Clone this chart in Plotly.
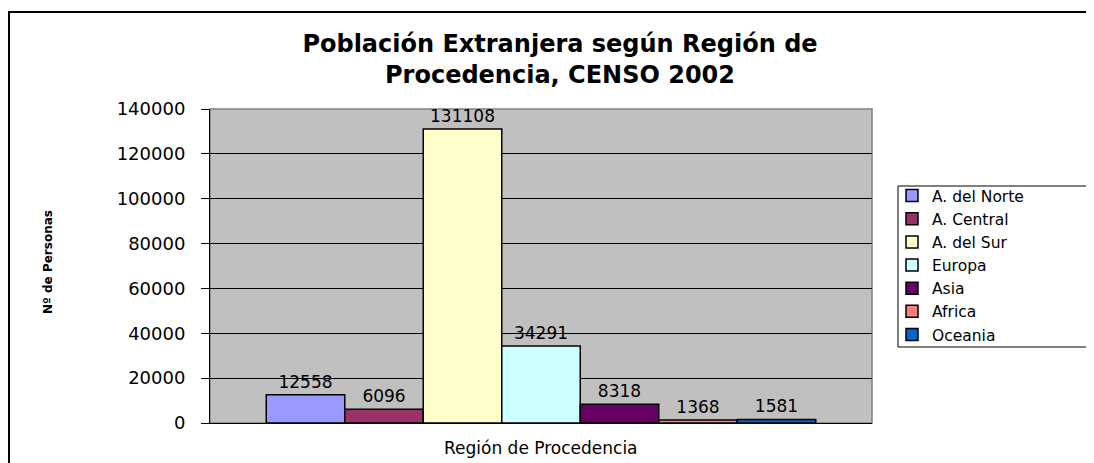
import plotly.graph_objects as go

# ---- data ----
category = ["Región de Procedencia"]
regions = ["A. del Norte", "A. Central", "A. del Sur", "Europa", "Asia", "Africa", "Oceania"]
values = [12558, 6096, 131108, 34291, 8318, 1368, 1581]
colors = ["#9999FF", "#993366", "#FFFFCC", "#CCFFFF", "#660066", "#FF8080", "#0066CC"]
y_ticks = [0, 20000, 40000, 60000, 80000, 100000, 120000, 140000]
title_lines = ["Población Extranjera según Región de", "Procedencia, CENSO 2002"]
y_title = "Nº de Personas"

# page body has an 8px margin; figure coordinates = reference px - OFF
OFF = 8
W, H = 1094 - OFF, 463 - OFF
L, R, T, B = 210 - OFF, 872 - OFF, 109 - OFF, 423 - OFF  # plot area in figure px


def px_x(px):  # reference-page px -> paper
    return (px - OFF - L) / (R - L)


def px_y(py):
    return (B - (py - OFF)) / (B - T)


FONT = "DejaVu Sans, Liberation Sans, Arial"

fig = go.Figure()
for name, v, c in zip(regions, values, colors):
    fig.add_trace(go.Bar(
        x=category, y=[v], name=name,
        marker=dict(color=c, line=dict(color="black", width=1.5)),
        text=[str(v)], textposition="outside", constraintext="none",
        textfont=dict(size=17, color="black", family=FONT),
        cliponaxis=False,
    ))

fig.update_layout(
    width=W, height=H,
    margin=dict(l=L, r=W - R, t=T, b=H - B, pad=0),
    paper_bgcolor="white",
    plot_bgcolor="#C0C0C0",
    barmode="group", bargap=0.17, bargroupgap=0,
    font=dict(family=FONT, color="black"),
    title=dict(text="<br>".join(title_lines), x=px_x(560), xref="paper", xanchor="center",
               y=1 - (52 - OFF) / H, yref="container", yanchor="middle",
               font=dict(size=24, family=FONT, weight="bold", color="black")),
    showlegend=True,
    legend=dict(x=px_x(892), y=px_y(179), xanchor="left", yanchor="top",
                xref="paper", yref="paper",
                bgcolor="rgba(0,0,0,0)", borderwidth=0,
                font=dict(size=15.5, family=FONT, color="black"),
                tracegroupgap=0, itemclick=False),
)

fig.update_xaxes(showticklabels=False, ticks="", showline=True, linecolor="black",
                 linewidth=1, showgrid=False, zeroline=False)
fig.update_yaxes(range=[0, 140000], tickvals=y_ticks, ticktext=[str(t) for t in y_ticks],
                 ticks="outside", ticklen=8, tickcolor="black", ticklabelstandoff=12,
                 tickfont=dict(size=18, family=FONT, color="black"),
                 showline=True, linecolor="black", linewidth=1,
                 showgrid=True, gridcolor="black", gridwidth=1, zeroline=False)

shapes = [
    # plot-area border (gray)
    dict(type="rect", xref="paper", yref="paper", x0=0, x1=1, y0=0, y1=1,
         line=dict(color="#808080", width=1.5), layer="below"),
    # outer chart frame
    dict(type="rect", xref="paper", yref="paper", x0=px_x(9), x1=px_x(1120),
         y0=px_y(490), y1=px_y(12), line=dict(color="black", width=2)),
    # legend box
    dict(type="rect", xref="paper", yref="paper", x0=px_x(898), x1=px_x(1120),
         y0=px_y(347), y1=px_y(186), line=dict(color="black", width=1)),
]
fig.update_layout(shapes=shapes)

fig.add_annotation(text=category[0], xref="paper", yref="paper", x=0.5, y=px_y(448),
                   xanchor="center", yanchor="middle", showarrow=False,
                   font=dict(size=17, family=FONT, color="black"))
fig.add_annotation(text=y_title, xref="paper", yref="paper", x=px_x(48), y=px_y(262),
                   xanchor="center", yanchor="middle", showarrow=False, textangle=-90,
                   font=dict(size=12, family=FONT, weight="bold", color="black"))

fig.write_html("out.html")
